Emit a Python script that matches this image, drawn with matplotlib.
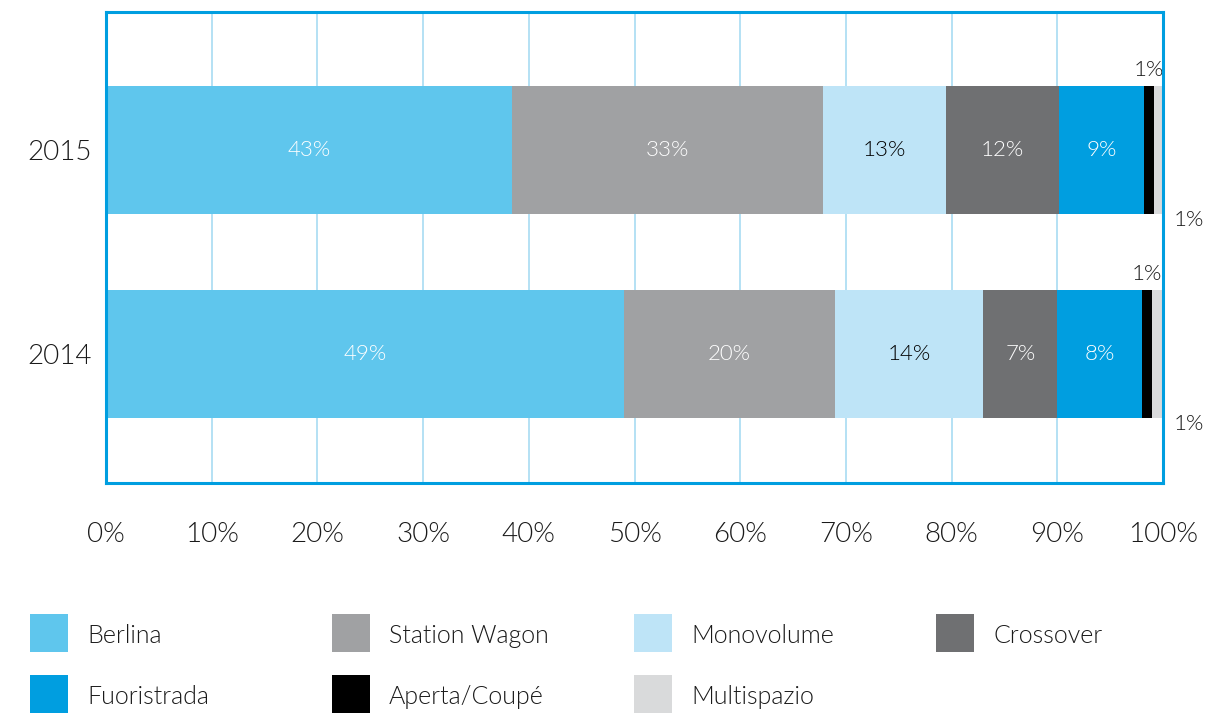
"""Body-style mix of registrations, 2014 vs 2015, as a 100% stacked bar."""

import matplotlib.pyplot as plt
import numpy as np
from matplotlib.patches import Rectangle

plt.rcParams.update({"font.family": ["Lato", "DejaVu Sans"], "font.weight": 300})

YEARS = ["2014", "2015"]
SEGMENTS = ["Berlina", "Station Wagon", "Monovolume", "Crossover",
            "Fuoristrada", "Aperta/Coupé", "Multispazio"]
SHARE_2014 = [49, 20, 14, 7, 8, 1, 1]
SHARE_2015 = [43, 33, 13, 12, 9, 1, 1]
COLORS = ["#5FC6ED", "#A0A1A3", "#BEE4F7", "#6F7072",
          "#009EE0", "#000000", "#D9DADB"]
LABEL_COLORS = ["white", "white", "black", "white", "white", None, None]

BLUE = "#009EE0"
GRID = "#A8DCF2"
INK = "#1a1a1a"
W, H = 1230, 713

shares = np.array([SHARE_2014, SHARE_2015], dtype=float)
# normalise each year so the stack always spans 0-100%
pct = shares / shares.sum(axis=1, keepdims=True) * 100

fig = plt.figure(figsize=(W / 100, H / 100), dpi=100)
ax = fig.add_axes([106 / W, 1 - 483 / H, (1163 - 106) / W, (483 - 12) / H])

ypos = np.arange(len(YEARS))
bar_h = 0.627
left = np.zeros(len(YEARS))
for j, name in enumerate(SEGMENTS):
    ax.barh(ypos, pct[:, j], left=left, height=bar_h, color=COLORS[j],
            edgecolor="none", zorder=3)
    for i in range(len(YEARS)):
        val = shares[i, j]
        cx = left[i] + pct[i, j] / 2
        if LABEL_COLORS[j] is not None:
            ax.text(cx, ypos[i], f"{val:.0f}%", ha="center", va="center",
                    fontsize=16, color=LABEL_COLORS[j], zorder=4)
        elif name == "Aperta/Coupé":
            ax.text(cx, ypos[i] + bar_h / 2 + 0.03, f"{val:.0f}%",
                    ha="center", va="bottom", fontsize=16, color=INK)
        else:
            ax.text(left[i] + pct[i, j] + 1.0, ypos[i] - bar_h / 2 - 0.03,
                    f"{val:.0f}%", ha="left", va="center", fontsize=16,
                    color=INK, clip_on=False)
    left += pct[:, j]

ax.set_xlim(0, 100)
ax.set_ylim(-0.632, 1.676)
ax.set_xticks(np.arange(0, 101, 10))
ax.set_xticklabels([f"{t}%" for t in range(0, 101, 10)])
ax.set_yticks(ypos)
ax.set_yticklabels(YEARS)
ax.tick_params(length=0, labelsize=20, labelcolor=INK)
ax.tick_params(axis="x", pad=28)
ax.tick_params(axis="y", pad=10)
ax.grid(axis="x", color=GRID, lw=1.2, zorder=1)
ax.grid(axis="y", visible=False)
for s in ax.spines.values():
    s.set_color(BLUE)
    s.set_linewidth(2.2)
    s.set_zorder(5)

# legend laid out as a 4-column grid under the plot
for k, name in enumerate(SEGMENTS):
    row, col = divmod(k, 4)
    x0 = 30 + col * 302
    y0 = 614 + row * 61
    fig.add_artist(Rectangle((x0 / W, 1 - (y0 + 38) / H), 38 / W, 38 / H,
                             transform=fig.transFigure, color=COLORS[k], lw=0))
    fig.text((x0 + 57) / W, 1 - (y0 + 22) / H, name, ha="left", va="center",
             fontsize=18, color=INK)

fig.savefig("out.png", dpi=100)
